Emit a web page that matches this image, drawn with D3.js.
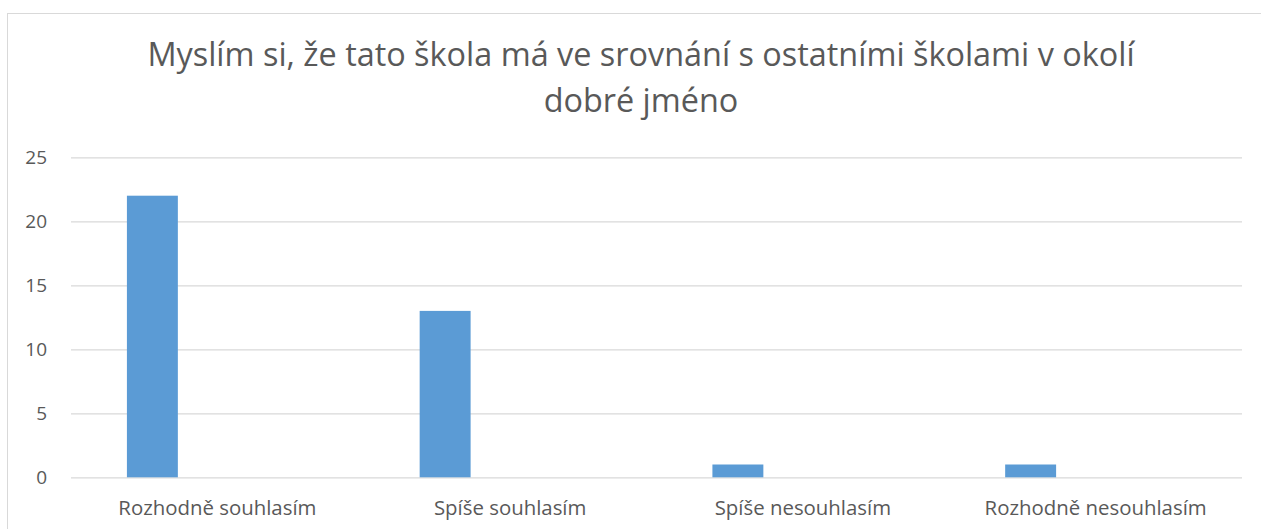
<!DOCTYPE html>
<html>
<head>
<meta charset="utf-8">
<script src="https://cdn.jsdelivr.net/npm/d3@7"></script>
<style>
  html, body { margin: 0; padding: 0; background: #fff; }
  svg { display: block; font-family: "Open Sans", "Noto Sans", sans-serif; }
</style>
</head>
<body>
<svg id="chart" width="1261" height="529"></svg>
<script>
// Survey answers and response counts
const categories = ["Rozhodně souhlasím", "Spíše souhlasím", "Spíše nesouhlasím", "Rozhodně nesouhlasím"];
const counts = [22, 13, 1, 1];
const yTicks = [0, 5, 10, 15, 20, 25];
const titleLines = ["Myslím si, že tato škola má ve srovnání s ostatními školami v okolí", "dobré jméno"];

const svg = d3.select("#chart");
const W = 1261, H = 529;
const plot = { left: 71, right: 1242, top: 157.3, bottom: 477.3 };
const FONT = "\"Open Sans\", \"Noto Sans\", sans-serif";

// Chart frame
svg.append("rect")
  .attr("x", 7.5).attr("y", 13.5)
  .attr("width", W + 10).attr("height", H + 10)
  .attr("fill", "#fff").attr("stroke", "#d9d9d9").attr("stroke-width", 1);

// Title
svg.append("g").selectAll("text")
  .data(titleLines)
  .join("text")
  .attr("x", 641)
  .attr("y", (d, i) => 66 + i * 46)
  .attr("text-anchor", "middle")
  .attr("fill", "#595959")
  .attr("font-size", 32.4)
  .text(d => d);

const x = d3.scaleBand().domain(categories).range([plot.left, plot.right]).padding(0);
const y = d3.scaleLinear().domain([0, 25]).range([plot.bottom, plot.top]);

// Horizontal gridlines with value labels
const yAxis = d3.axisLeft(y).tickValues(yTicks).tickSize(-(plot.right - plot.left)).tickPadding(24);
const gy = svg.append("g").attr("transform", `translate(${plot.left},0)`).call(yAxis);
gy.select(".domain").remove();
gy.selectAll(".tick line").attr("stroke", "#d9d9d9").attr("stroke-width", 1.3);
gy.selectAll(".tick text")
  .attr("fill", "#595959").attr("font-size", 19)
  .attr("font-family", FONT);

// Bars sit at the left part of each category band
const barOffset = 0.191, barWidth = 0.174;
svg.append("g").selectAll("rect")
  .data(categories.map((c, i) => ({ c, v: counts[i] })))
  .join("rect")
  .attr("x", d => x(d.c) + x.bandwidth() * barOffset)
  .attr("width", x.bandwidth() * barWidth)
  .attr("y", d => y(d.v))
  .attr("height", d => y(0) - y(d.v))
  .attr("fill", "#5b9bd5");

// Category labels
const xAxis = d3.axisBottom(x).tickSize(0);
const gx = svg.append("g").attr("transform", `translate(0,${plot.bottom})`).call(xAxis);
gx.select(".domain").remove();
gx.selectAll(".tick text")
  .attr("y", 38).attr("dy", 0)
  .attr("fill", "#595959").attr("font-size", 20.4)
  .attr("font-family", FONT);
</script>
</body>
</html>
